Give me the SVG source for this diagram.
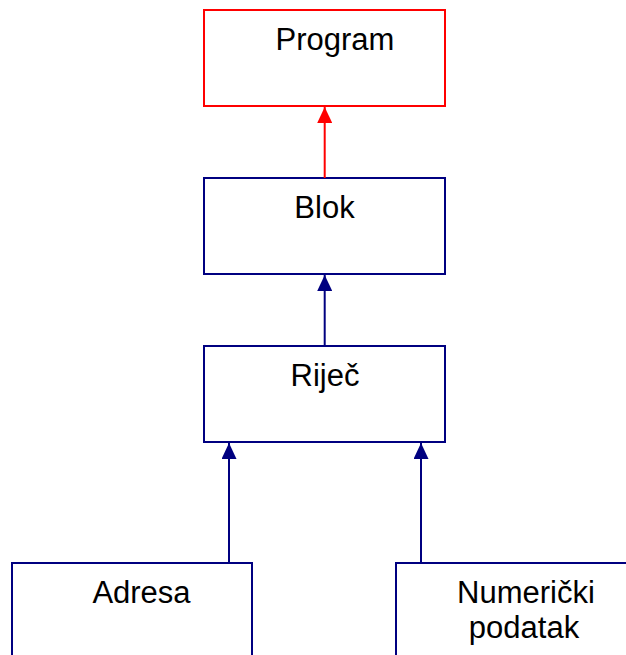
<svg xmlns="http://www.w3.org/2000/svg" width="626" height="655" viewBox="0 0 626 655">
<style>
.box{fill:#fff;stroke:#000080;stroke-width:2}
.red{stroke:#ff0000}
.lbl{font-family:"Liberation Sans",Arial,sans-serif;font-size:31px;fill:#000;text-anchor:middle}
.con{stroke:#000080;stroke-width:2;fill:none}
.conr{stroke:#ff0000;stroke-width:2;fill:none}
</style>
<defs>
<marker id="ab" viewBox="0 0 16 15" refX="16" refY="7.5" markerWidth="16" markerHeight="15" markerUnits="userSpaceOnUse" orient="auto">
<path d="M0,0 L16,7.5 L0,15 Z" fill="#000080"/>
</marker>
<marker id="ar" viewBox="0 0 16 15" refX="16" refY="7.5" markerWidth="16" markerHeight="15" markerUnits="userSpaceOnUse" orient="auto">
<path d="M0,0 L16,7.5 L0,15 Z" fill="#ff0000"/>
</marker>
</defs>
<rect width="626" height="655" fill="#fff"/>
<g id="program">
<rect class="box red" x="204" y="10" width="241" height="96"/>
<text class="lbl" x="335" y="50">Program</text>
</g>
<g id="blok">
<rect class="box" x="204" y="178" width="241" height="96"/>
<text class="lbl" x="324.5" y="218">Blok</text>
</g>
<g id="rijec">
<rect class="box" x="204" y="346" width="241" height="96"/>
<text class="lbl" x="325" y="386">Riječ</text>
</g>
<g id="adresa">
<rect class="box" x="12" y="563" width="240" height="110"/>
<text class="lbl" x="141.5" y="603">Adresa</text>
</g>
<g id="numericki">
<rect class="box" x="396" y="563" width="241" height="110"/>
<text class="lbl" x="526" y="603">Numerički</text>
<text class="lbl" x="524" y="638">podatak</text>
</g>
<g id="connectors">
<line class="conr" x1="324.7" y1="178" x2="324.7" y2="107" marker-end="url(#ar)"/>
<line class="con" x1="324.7" y1="346" x2="324.7" y2="275" marker-end="url(#ab)"/>
<line class="con" x1="229" y1="563" x2="229" y2="443" marker-end="url(#ab)"/>
<line class="con" x1="421" y1="563" x2="421" y2="443" marker-end="url(#ab)"/>
</g>
</svg>
